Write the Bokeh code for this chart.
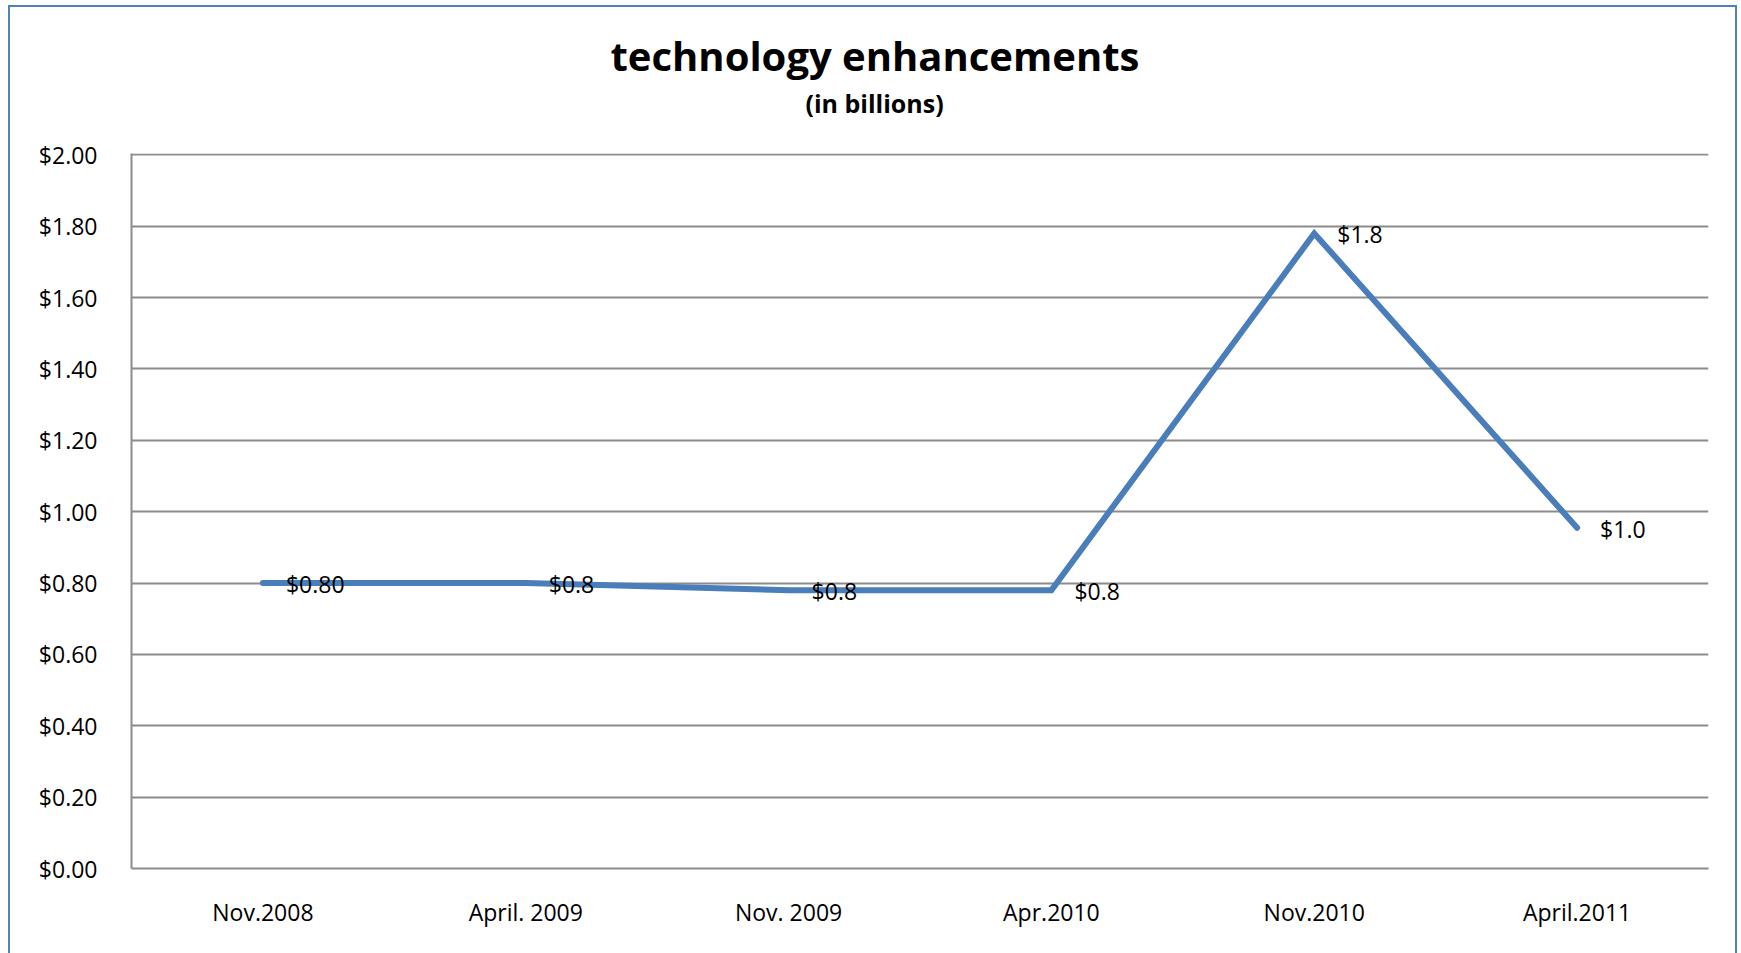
from bokeh.plotting import figure
from bokeh.models import (Range1d, FactorRange, NumeralTickFormatter, ColumnDataSource,
                          LabelSet, Title, FixedTicker)
from bokeh.core.properties import value
from bokeh.embed import file_html
from bokeh.resources import INLINE

# ---- data ----
categories = ["Nov.2008", "April. 2009", "Nov. 2009", "Apr.2010", "Nov.2010", "April.2011"]
amounts = [0.80, 0.80, 0.78, 0.78, 1.78, 0.955]
point_labels = ["$0.80", "$0.8", "$0.8", "$0.8", "$1.8", "$1.0"]
y_ticks = [0.0, 0.2, 0.4, 0.6, 0.8, 1.0, 1.2, 1.4, 1.6, 1.8, 2.0]
title_text = "technology enhancements"
subtitle_text = "(in billions)"

FONT = "Open Sans"
LINE_BLUE = "#4A7EBB"
BORDER_BLUE = "#4F81BD"
GRID_GRAY = "#8C8C8C"

source = ColumnDataSource(dict(cat=categories, amt=amounts, lab=point_labels))

p = figure(x_range=FactorRange(factors=categories), y_range=Range1d(0, 2.004),
           width=1729, height=948, output_backend="svg", toolbar_location=None,
           title=None, min_border_left=121, min_border_right=31,
           min_border_top=146, min_border_bottom=87)
p.styles = {"border": "2px solid " + BORDER_BLUE, "border-bottom": "0px",
            "margin-top": "5px", "margin-left": "8px"}

p.outline_line_color = None
p.background_fill_color = "white"
p.border_fill_color = "white"

# titles (first added sits closest to the plot); left-aligned with offsets so the
# text is centred on the whole chart box rather than on the plot frame
p.add_layout(Title(text=subtitle_text, align="left", offset=674, text_font=FONT,
                   text_font_size="25px", text_font_style="bold",
                   text_color="black", standoff=68), "above")
p.add_layout(Title(text=title_text, align="left", offset=479, text_font=FONT,
                   text_font_size="40px", text_font_style="bold",
                   text_color="black", standoff=-66), "above")

# axes
p.xgrid.grid_line_color = None
p.yaxis.ticker = FixedTicker(ticks=y_ticks)
p.ygrid.ticker = FixedTicker(ticks=y_ticks)
p.ygrid.grid_line_color = GRID_GRAY
p.ygrid.grid_line_width = 2
p.yaxis.formatter = NumeralTickFormatter(format="$0.00")

for ax in (p.xaxis, p.yaxis):
    ax.axis_line_color = GRID_GRAY
    ax.axis_line_width = 2
    ax.major_tick_line_color = None
    ax.minor_tick_line_color = None
    ax.major_tick_out = 0
    ax.major_tick_in = 0
    ax.major_label_text_font = FONT
    ax.major_label_text_font_size = "23px"
    ax.major_label_text_color = "black"

p.yaxis.major_label_standoff = 34
p.xaxis.major_label_standoff = 27

# series
p.line(x="cat", y="amt", source=source, line_color=LINE_BLUE, line_width=6,
       line_cap="round", line_join="miter")

labels = LabelSet(x="cat", y="amt", text="lab", source=source, x_offset=23, y_offset=-1,
                  text_align="left", text_baseline="middle",
                  text_font=value(FONT), text_font_size="23px", text_color="black")
p.add_layout(labels)

open("out.html", "w").write(file_html(p, INLINE))
